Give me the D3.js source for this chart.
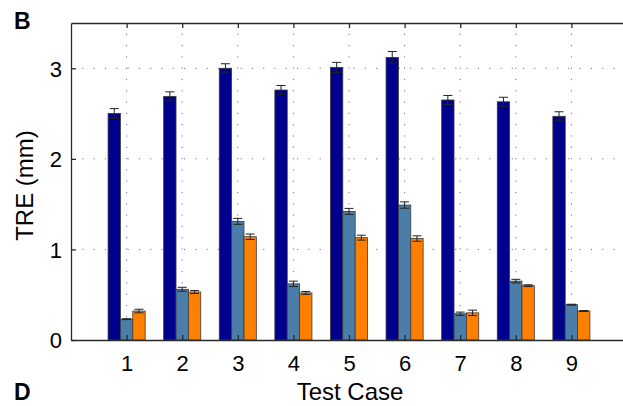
<!DOCTYPE html>
<html>
<head>
<meta charset="utf-8">
<script src="https://cdn.jsdelivr.net/npm/d3@7"></script>
<style>
  body { margin: 0; background: #fff; }
  svg { display: block; font-family: "Liberation Sans", Arial, sans-serif; }
  .tick text { fill: #000; }
  .axisLb { font-size: 24px; text-anchor: middle; fill: #000; }
  .panel { font-size: 23px; font-weight: bold; fill: #000; }
</style>
</head>
<body>
<div id="main"></div>
<script>
// test cases on the x axis
const cases = [1, 2, 3, 4, 5, 6, 7, 8, 9];
// series (one bar per case each)
const series = ["s1", "s2", "s3"];
const seriesColors = ["#00008f", "#4a7ea8", "#ff8000"];
// TRE mean values (mm)
const treS1 = [2.50, 2.69, 3.00, 2.76, 3.01, 3.12, 2.65, 2.63, 2.47];
const treS2 = [0.23, 0.56, 1.31, 0.62, 1.42, 1.49, 0.29, 0.65, 0.39];
const treS3 = [0.32, 0.53, 1.14, 0.52, 1.13, 1.12, 0.30, 0.60, 0.32];
// error bar half-lengths (mm)
const errS1 = [0.055, 0.05, 0.05, 0.05, 0.055, 0.065, 0.05, 0.05, 0.05];
const errS2 = [0.005, 0.022, 0.033, 0.03, 0.033, 0.035, 0.018, 0.02, 0.005];
const errS3 = [0.02, 0.016, 0.03, 0.016, 0.027, 0.03, 0.03, 0.01, 0.005];
// axis ticks
const xTicks = [1, 2, 3, 4, 5, 6, 7, 8, 9];
const yTicks = [0, 1, 2, 3];

const ctx = {
    w: 623,
    h: 406,
    left: 71, right: 627, top: 23, bottom: 340
};

function createViz(){
    let svgEl = d3.select("#main").append("svg")
        .attr("width", ctx.w).attr("height", ctx.h);
    let rootG = svgEl.append("g");

    const x = d3.scaleLinear().domain([0, 10]).range([ctx.left, ctx.right]);
    const y = d3.scaleLinear().domain([0, 3.5]).range([ctx.bottom, ctx.top]);
    // position of a series inside a group, in data units
    const inner = d3.scaleBand().domain(series).range([-1/3, 1/3]);

    // dotted grid
    const grid = rootG.append("g")
        .attr("stroke", "#777").attr("stroke-width", 1)
        .attr("stroke-dasharray", "1.2,10.1");
    grid.selectAll(".vg").data(xTicks).join("line")
        .attr("x1", d => x(d)).attr("x2", d => x(d))
        .attr("y1", ctx.bottom).attr("y2", ctx.top);
    grid.selectAll(".hg").data(yTicks.slice(1)).join("line")
        .attr("x1", ctx.left).attr("x2", ctx.right)
        .attr("y1", d => y(d)).attr("y2", d => y(d));

    // bars + error bars
    const values = [treS1, treS2, treS3];
    const errs = [errS1, errS2, errS3];
    series.forEach((s, si) => {
        const rows = cases.map((c, i) => ({c: c, v: values[si][i], e: errs[si][i]}));
        const g = rootG.append("g");
        g.selectAll("rect").data(rows).join("rect")
            .attr("x", d => x(d.c + inner(s)))
            .attr("width", d => x(d.c + inner(s) + inner.bandwidth()) - x(d.c + inner(s)))
            .attr("y", d => y(d.v))
            .attr("height", d => y(0) - y(d.v))
            .attr("fill", seriesColors[si])
            .attr("stroke", "#3a3a3a").attr("stroke-width", 0.8);
        const cx = d => x(d.c + inner(s) + inner.bandwidth() / 2);
        const eg = g.append("g").attr("stroke", "#222").attr("stroke-width", 1);
        eg.selectAll(".v").data(rows).join("line")
            .attr("x1", cx).attr("x2", cx)
            .attr("y1", d => y(d.v - d.e)).attr("y2", d => y(d.v + d.e));
        eg.selectAll(".t").data(rows).join("line")
            .attr("x1", d => cx(d) - 4.5).attr("x2", d => cx(d) + 4.5)
            .attr("y1", d => y(d.v + d.e)).attr("y2", d => y(d.v + d.e));
        eg.selectAll(".b").data(rows).join("line")
            .attr("x1", d => cx(d) - 4.5).attr("x2", d => cx(d) + 4.5)
            .attr("y1", d => y(d.v - d.e)).attr("y2", d => y(d.v - d.e));
    });

    // axes (ticks pointing inward)
    const xAxis = rootG.append("g")
        .attr("transform", `translate(0,${ctx.bottom})`)
        .call(d3.axisBottom(x).tickValues(xTicks).tickFormat(d3.format("d"))
              .tickSizeInner(-5).tickSizeOuter(0).tickPadding(15));
    const yAxis = rootG.append("g")
        .attr("transform", `translate(${ctx.left},0)`)
        .call(d3.axisLeft(y).tickValues(yTicks).tickFormat(d3.format("d"))
              .tickSizeInner(-5).tickSizeOuter(0).tickPadding(9));
    const xTop = rootG.append("g")
        .attr("transform", `translate(0,${ctx.top})`)
        .call(d3.axisTop(x).tickValues(xTicks).tickFormat("")
              .tickSizeInner(-5).tickSizeOuter(0));
    [xAxis, yAxis, xTop].forEach(a => {
        a.selectAll("path, line").attr("stroke", "#2a2a2a").attr("stroke-width", 1.3);
        a.selectAll("text").style("font-size", "22px");
        a.attr("font-family", null);
    });
    yAxis.selectAll("text").attr("dy", "0.36em");

    // labels
    rootG.append("text").classed("axisLb", true)
        .attr("x", (ctx.left + 623) / 2 + 3).attr("y", 400)
        .text("Test Case");
    rootG.append("text").classed("axisLb", true)
        .attr("transform", `translate(33,${(ctx.top + ctx.bottom) / 2 + 4}) rotate(-90)`)
        .text("TRE (mm)");
    rootG.append("text").classed("panel", true)
        .attr("x", 14).attr("y", 29).text("B");
    rootG.append("text").classed("panel", true)
        .attr("x", 14).attr("y", 400).text("D");
}

createViz();
</script>
</body>
</html>
